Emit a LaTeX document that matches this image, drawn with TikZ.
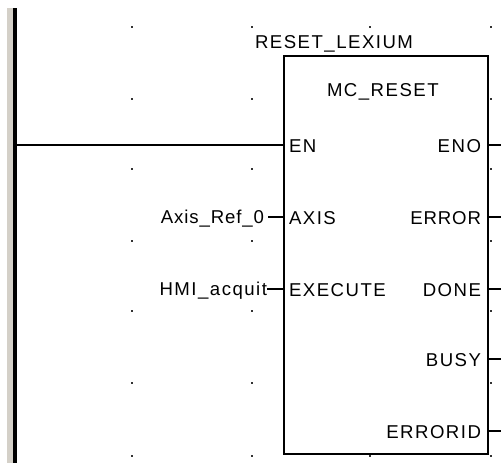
\documentclass[tikz,border=0pt]{standalone}
\usepackage{fontspec}
\setmainfont{Liberation Sans}
\newfontfamily\plcfont[LetterSpace=8]{Liberation Sans}
\newfontfamily\plctight[LetterSpace=4.8]{Liberation Sans}
\definecolor{railgray}{RGB}{212,208,200}
\definecolor{wire}{RGB}{0,0,0}
\definecolor{dotc}{RGB}{50,50,50}
\tikzset{
  x=1pt,y=-1pt,
  wireline/.style={draw=wire,line width=1.6pt},
  fblock/.style={draw=wire,line width=1.8pt,fill=white,minimum width=204pt,minimum height=398pt,inner sep=0pt,anchor=north west},
  lbl/.style={font=\plcfont\fontsize{18.6}{20}\selectfont,text=wire,inner sep=0pt,outer sep=0pt},
  tightlbl/.style={font=\plctight\fontsize{18.6}{20}\selectfont},
  pinl/.style={lbl,anchor=base west},
  pinr/.style={lbl,anchor=base east},
  griddot/.style={fill=dotc,inner sep=0pt,minimum size=1.7pt,shape=rectangle}
}
\begin{document}
\begin{tikzpicture}
\useasboundingbox (0,0) rectangle (501,463);
\fill[white] (0,0) rectangle (501,463);
% grid dots
\foreach \gx in {132,252,491}
  \foreach \gy in {27,99,169,241,311,383,456}
    \node[griddot] at (\gx,\gy) {};
\node[griddot] at (370,27) {};
\node[griddot] at (370,456) {};
% power rail
\fill[railgray] (7,8) rectangle (13,463);
\fill[black] (13,8) rectangle (17,463);
\coordinate (rail) at (15,145);
% block
\node[fblock] (fb) at (283,55) {};
% free-end coordinates
\coordinate (axisStub) at (268,217);
\coordinate (execStub) at (267,289);
\coordinate (enoEnd) at (501,145);
\coordinate (errorEnd) at (501,217);
\coordinate (doneEnd) at (501,289);
\coordinate (busyEnd) at (501,359);
\coordinate (erroridEnd) at (501,431);
% wires
\draw[wireline] (rail) -- (rail -| fb.west);
\draw[wireline] (axisStub) -- (axisStub -| fb.west);
\draw[wireline] (execStub) -- (execStub -| fb.west);
\draw[wireline] (enoEnd -| fb.east) -- (enoEnd);
\draw[wireline] (errorEnd -| fb.east) -- (errorEnd);
\draw[wireline] (doneEnd -| fb.east) -- (doneEnd);
\draw[wireline] (busyEnd -| fb.east) -- (busyEnd);
\draw[wireline] (erroridEnd -| fb.east) -- (erroridEnd);
% labels
\node[pinl] (inst) at (255,48) {RESET\_LEXIUM};
\node[pinl] (type) at (327,96) {MC\_RESET};
\node[pinl] (en) at (289,152) {EN};
\node[pinl] (axis) at (289,224) {AXIS};
\node[pinl] (exec) at (289,296.5) {EXECUTE};
\node[pinr] (eno) at (481,152) {ENO};
\node[pinr,tightlbl] (error) at (481,224) {ERROR};
\node[pinr] (done) at (481,296.5) {DONE};
\node[pinr] (busy) at (481,366.5) {BUSY};
\node[pinr] (errorid) at (481,438) {ERRORID};
\node[pinr,tightlbl] (axisv) at (264,223) {Axis\_Ref\_0};
\node[pinr] (hmi) at (267,295) {HMI\_acquit};
\end{tikzpicture}
\end{document}
